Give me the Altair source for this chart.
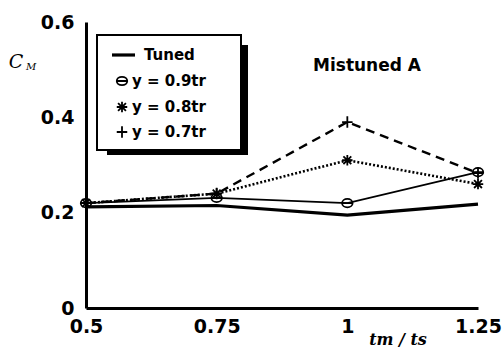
import altair as alt
import pandas as pd

# Moment coefficient versus frequency ratio, tuned and mistuned cases
ratio = [0.5, 0.75, 1.0, 1.25]
tuned = [0.212, 0.215, 0.195, 0.218]
y09 = [0.22, 0.231, 0.22, 0.285]
y08 = [0.22, 0.24, 0.31, 0.26]
y07 = [0.22, 0.24, 0.39, 0.283]

series_names = ["Tuned", "y = 0.9tr", "y = 0.8tr", "y = 0.7tr"]
series_values = [tuned, y09, y08, y07]

rows = []
for name, vals in zip(series_names, series_values):
    for r, v in zip(ratio, vals):
        rows.append({"ratio": r, "cm": v, "series": name})
df = pd.DataFrame(rows)

FONT = "DejaVu Sans"
W, H = 392, 286

# marker outlines (unit-square SVG paths)
CIRCLE_BAR = "M-1,0A1,0.8 0 1,1 1,0A1,0.8 0 1,1 -1,0M-1,0L1,0"
ASTERISK = "M-1,0L1,0M0,-1L0,1M-0.75,-0.75L0.75,0.75M-0.75,0.75L0.75,-0.75"
PLUS = "M-1,0L1,0M0,-1.1L0,1.1"

styles = {
    "Tuned": dict(width=3.2, dash=None, shape=None),
    "y = 0.9tr": dict(width=1.6, dash=None, shape=CIRCLE_BAR),
    "y = 0.8tr": dict(width=2.6, dash=[2, 2], shape=ASTERISK),
    "y = 0.7tr": dict(width=2.4, dash=[9, 6], shape=PLUS),
}
MARK_SIZE = 110

x_enc = alt.X(
    "ratio:Q",
    scale=alt.Scale(domain=[0.5, 1.25], nice=False, zero=False),
    axis=alt.Axis(values=ratio, labelExpr="datum.value == 1 ? '1' : format(datum.value, '')",
                  title=None, grid=False, ticks=False, labelPadding=9,
                  labelBaseline="top", labelFlush=False),
)
y_enc = alt.Y(
    "cm:Q",
    scale=alt.Scale(domain=[0, 0.6], nice=False),
    axis=alt.Axis(values=[0, 0.2, 0.4, 0.6], labelExpr="datum.value == 0 ? '0' : format(datum.value, '.1f')",
                  title=None, grid=False, ticks=False, labelPadding=12, labelFlush=False),
)

base = alt.Chart(df)
layers = []
for name in series_names:
    st = styles[name]
    line_kw = dict(color="black", strokeWidth=st["width"])
    if st["dash"]:
        line_kw["strokeDash"] = st["dash"]
    layers.append(
        base.transform_filter(alt.datum.series == name)
        .mark_line(**line_kw)
        .encode(x=x_enc, y=y_enc)
    )
    if st["shape"]:
        layers.append(
            base.transform_filter(alt.datum.series == name)
            .mark_point(shape=st["shape"], filled=False, color="black",
                        strokeWidth=1.8, size=MARK_SIZE, opacity=1)
            .encode(x=x_enc, y=y_enc)
        )

one = pd.DataFrame({"k": [0]})


def label(text, x, y, size, italic=False, bold=True, align="center",
          baseline="middle", family=FONT):
    return alt.Chart(one).mark_text(
        text=text, fontSize=size, font=family,
        fontWeight="bold" if bold else "normal",
        fontStyle="italic" if italic else "normal",
        align=align, baseline=baseline, color="black",
    ).encode(x=alt.value(x), y=alt.value(y))


def box(x1, y1, x2, y2, fill, stroke=None, sw=0):
    kw = dict(fill=fill)
    if stroke:
        kw.update(stroke=stroke, strokeWidth=sw)
    return alt.Chart(one).mark_rect(**kw).encode(
        x=alt.value(x1), x2=alt.value(x2), y=alt.value(y1), y2=alt.value(y2))


# legend panel with drop shadow
legend = [
    box(21, 23, 162, 133, "black"),
    box(11, 13, 155, 128, "white", "black", 2),
]
row_y = [33, 59, 85, 110]
for name, ry in zip(series_names, row_y):
    st = styles[name]
    if st["shape"] is None:
        legend.append(
            alt.Chart(one).mark_rule(color="black", strokeWidth=3.2).encode(
                x=alt.value(26), x2=alt.value(49), y=alt.value(ry)))
        legend.append(label(name, 58, ry, 15, align="left"))
    else:
        legend.append(
            alt.Chart(one).mark_point(shape=st["shape"], filled=False, color="black",
                                      strokeWidth=1.8, size=MARK_SIZE, opacity=1)
            .encode(x=alt.value(36), y=alt.value(ry)))
        legend.append(label(name.replace(" = ", "  =  "), 46, ry, 15, align="left"))

annotations = [
    label("Mistuned A", 281, 44, 17),
    label("C", -70, 40, 19, italic=True, bold=False, family="DejaVu Serif"),
    label("M", -55, 45, 10, italic=True, bold=False, family="DejaVu Serif"),
    label("tm / ts", 312, 310, 16, italic=True, baseline="top", family="DejaVu Serif"),
]

chart = (
    alt.layer(*layers, *legend, *annotations)
    .properties(
        width=W, height=H,
        autosize=alt.AutoSizeParams(type="none"),
        padding={"left": 86, "top": 22, "right": 26, "bottom": 43},
        background="white",
    )
    .configure_view(stroke=None)
    .configure_axis(
        domainColor="black", domainWidth=3,
        labelFont=FONT, labelFontSize=19, labelFontWeight="bold",
        labelColor="black",
    )
)

chart.save("out.html", embed_options={"renderer": "svg", "actions": False})
